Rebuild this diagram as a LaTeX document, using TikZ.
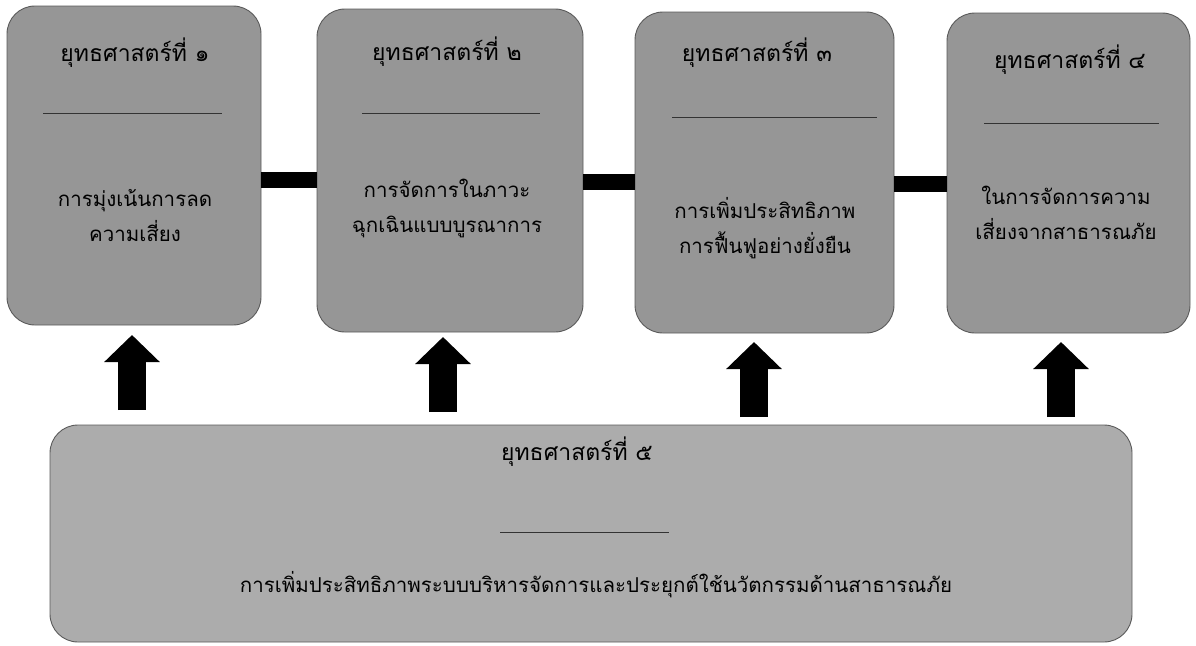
\documentclass[tikz,border=0pt]{standalone}
\usepackage{fontspec}
\newfontfamily\thaifont[Script=Thai]{Loma}
\usetikzlibrary{arrows.meta}
\definecolor{boxgray}{RGB}{150,150,150}
\definecolor{basegray}{RGB}{172,172,172}
\definecolor{edgegray}{RGB}{90,90,90}
\begin{document}
\begin{tikzpicture}[x=1pt,y=-1pt,
  sbox/.style={draw=edgegray, line width=0.9pt, fill=boxgray, rounded corners=28pt, inner sep=0pt},
  basebox/.style={draw=edgegray, line width=0.9pt, fill=basegray, rounded corners=28pt, inner sep=0pt},
  ttl/.style={font=\thaifont\fontsize{23}{35}\selectfont, inner sep=0pt},
  bodytxt/.style={font=\thaifont\fontsize{20.5}{35}\selectfont, align=center, inner sep=0pt},
  sepline/.style={draw=black!80, line width=0.8pt},
  bar/.style={draw=black, line width=16pt},
  uparrow/.style={draw=black, line width=28pt, -{Triangle[width=54pt,length=27pt]}}
]
\useasboundingbox (0,0) rectangle (1196,645);
% strategy boxes
\node[sbox, minimum width=254pt, minimum height=319pt] (b1) at (134,165.5) {};
\node[sbox, minimum width=266pt, minimum height=323pt] (b2) at (450,170.5) {};
\node[sbox, minimum width=259pt, minimum height=321pt] (b3) at (764.5,172.5) {};
\node[sbox, minimum width=243pt, minimum height=320pt] (b4) at (1068.5,173) {};
\node[basebox, minimum width=1082pt, minimum height=217pt] (b5) at (591,533.5) {};
% connecting bars
\coordinate (y1) at (0,180);
\coordinate (y2) at (0,182);
\coordinate (y3) at (0,184);
\draw[bar] (b1.east |- y1) -- (b2.west |- y1);
\draw[bar] (b2.east |- y2) -- (b3.west |- y2);
\draw[bar] (b3.east |- y3) -- (b4.west |- y3);
% up arrows
\coordinate (a1s) at (132,410); \coordinate (a1e) at (132,335);
\coordinate (a2s) at (443,412); \coordinate (a2e) at (443,337);
\coordinate (a3s) at (754,417); \coordinate (a3e) at (754,342);
\coordinate (a4s) at (1061,417); \coordinate (a4e) at (1061,342);
\draw[uparrow] (a1s) -- (a1e);
\draw[uparrow] (a2s) -- (a2e);
\draw[uparrow] (a3s) -- (a3e);
\draw[uparrow] (a4s) -- (a4e);
% texts box 1
\node[ttl] (t1) at (135,53) {ยุทธศาสตร์ที่ ๑};
\coordinate (l1a) at (43,113); \coordinate (l1b) at (222,113);
\draw[sepline] (l1a) -- (l1b);
\node[bodytxt] (d1) at (135,215) {การมุ่งเน้นการลด\\ความเสี่ยง};
% box 2
\node[ttl] (t2) at (447,52) {ยุทธศาสตร์ที่ ๒};
\coordinate (l2a) at (362,113); \coordinate (l2b) at (540,113);
\draw[sepline] (l2a) -- (l2b);
\node[bodytxt] (d2) at (447,208) {การจัดการในภาวะ\\ฉุกเฉินแบบบูรณาการ};
% box 3
\node[ttl] (t3) at (757,53) {ยุทธศาสตร์ที่ ๓};
\coordinate (l3a) at (672,117); \coordinate (l3b) at (877,117);
\draw[sepline] (l3a) -- (l3b);
\node[bodytxt] (d3) at (765,228) {การเพิ่มประสิทธิภาพ\\การฟื้นฟูอย่างยั่งยืน};
% box 4
\node[ttl] (t4) at (1070,60) {ยุทธศาสตร์ที่ ๔};
\coordinate (l4a) at (984,123); \coordinate (l4b) at (1159,123);
\draw[sepline] (l4a) -- (l4b);
\node[bodytxt] (d4) at (1066,213) {ในการจัดการความ\\เสี่ยงจากสาธารณภัย};
% box 5
\node[ttl] (t5) at (577,452) {ยุทธศาสตร์ที่ ๕};
\coordinate (l5a) at (500,532); \coordinate (l5b) at (669,532);
\draw[sepline] (l5a) -- (l5b);
\node[bodytxt] (d5) at (596,585) {การเพิ่มประสิทธิภาพระบบบริหารจัดการและประยุกต์ใช้นวัตกรรมด้านสาธารณภัย};
\end{tikzpicture}
\end{document}
